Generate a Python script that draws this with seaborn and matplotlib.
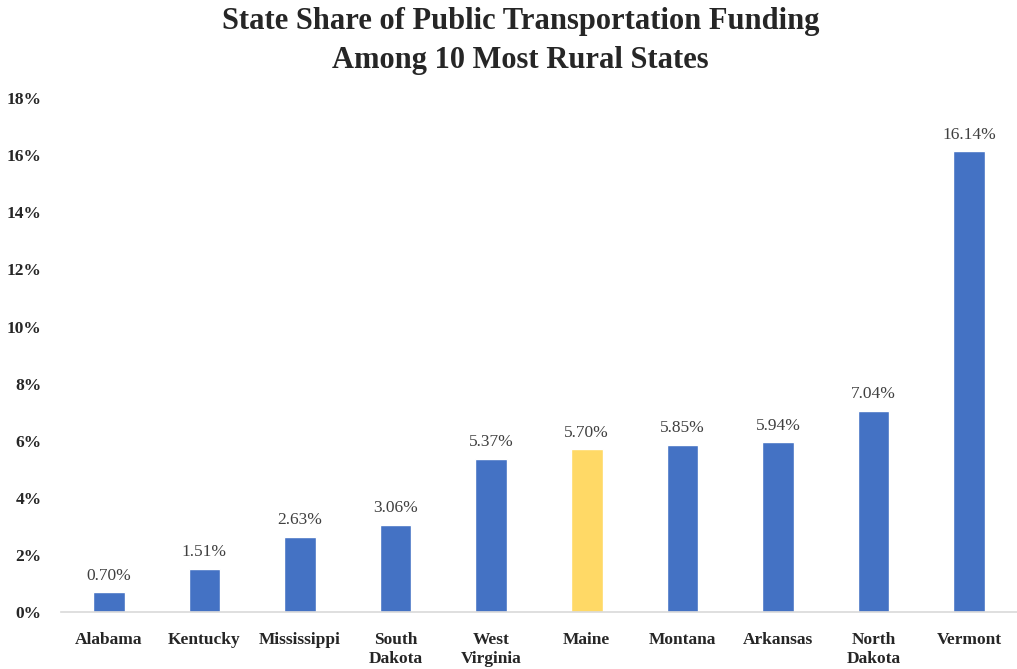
import pandas as pd
import matplotlib.pyplot as plt
import seaborn as sns
from matplotlib.ticker import PercentFormatter

# ===== DATA =====
states = ["Alabama", "Kentucky", "Mississippi", "South\nDakota", "West\nVirginia",
          "Maine", "Montana", "Arkansas", "North\nDakota", "Vermont"]
share = [0.70, 1.51, 2.63, 3.06, 5.37, 5.70, 5.85, 5.94, 7.04, 16.14]
highlight = "Maine"

df = pd.DataFrame({"state": states, "share": share})
colors = {s: ("#FFD966" if s == highlight else "#4472C4") for s in states}

sns.set_style("white")
plt.rcParams['font.family'] = ['Liberation Serif', 'DejaVu Serif']

fig = plt.figure(figsize=(10.17, 6.69), dpi=100)
ax = fig.add_axes([0.06, 0.085, 0.94, 0.7685])

sns.barplot(data=df, x="state", y="share", hue="state", palette=colors,
            width=0.33, saturation=1, legend=False, ax=ax)

for i, v in enumerate(share):
    ax.text(i, v + 0.3, f"{v:.2f}%", ha="center", va="bottom",
            fontsize=12.5, color="#404040")

ax.set_ylim(0, 18)
ax.set_yticks(range(0, 19, 2))
ax.yaxis.set_major_formatter(PercentFormatter(decimals=0))
ax.set_xlim(-0.5, 9.5)
ax.set_xlabel("")
ax.set_ylabel("")
ax.tick_params(axis="both", length=0, labelsize=12.5)
for lab in ax.get_xticklabels() + ax.get_yticklabels():
    lab.set_fontweight("bold")
ax.tick_params(axis="y", pad=14)
ax.tick_params(axis="x", pad=14)
for lab in ax.get_xticklabels():
    lab.set_linespacing(1.25)

for s in ["top", "right", "left"]:
    ax.spines[s].set_visible(False)
ax.spines["bottom"].set_color("#D9D9D9")
ax.spines["bottom"].set_linewidth(1.2)

fig.suptitle("State Share of Public Transportation Funding\nAmong 10 Most Rural States",
             fontsize=22, fontweight="bold", x=0.512, y=0.99, linespacing=1.45)

fig.savefig("out.png", dpi=100)
